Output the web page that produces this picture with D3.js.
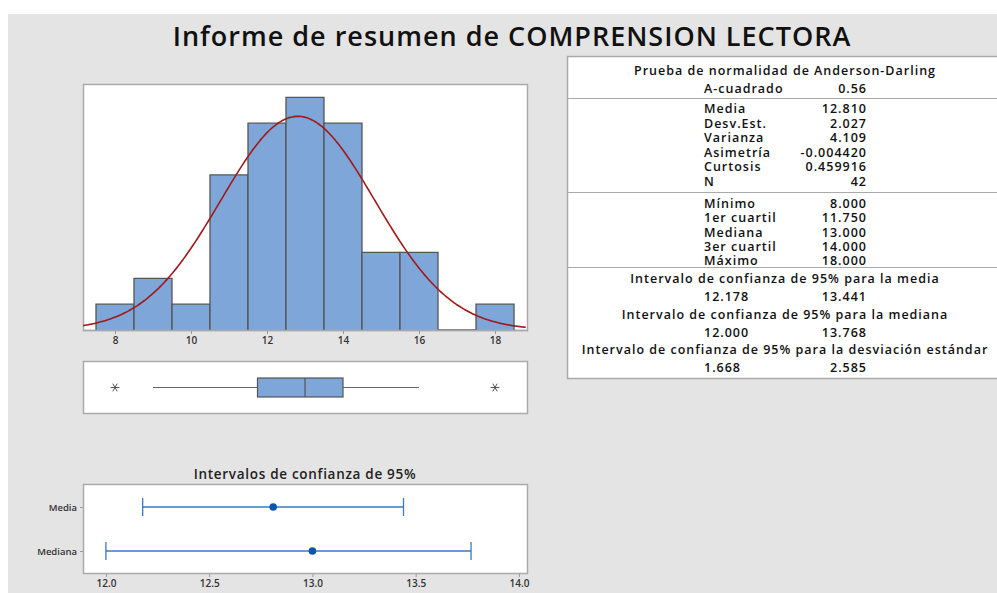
<!DOCTYPE html>
<html>
<head>
<meta charset="utf-8">
<script src="https://cdn.jsdelivr.net/npm/d3@7"></script>
<style>
  body { margin: 0; background: #fff; }
  svg text { font-family: "Open Sans", "Noto Sans", sans-serif; }
  .tick text { font-size: 10px; font-weight: 600; fill: #333; }
  .tick line { stroke: #999; }
  .domain { display: none; }
</style>
</head>
<body>
<div id="graphic"></div>
<script>
// histogram data (bin centres, bin width 1)
var binCenters = [8, 9, 10, 11, 12, 13, 14, 15, 16, 17, 18];
var binCounts = [1, 2, 1, 6, 8, 9, 8, 3, 3, 0, 1];
var histTicks = [8, 10, 12, 14, 16, 18];

var mean = 12.810, stdev = 2.027, n = 42;

// boxplot
var boxQ1 = 11.75, boxMedian = 13.0, boxQ3 = 14.0;
var whiskerLow = 9, whiskerHigh = 16;
var outliers = [8, 18];

// confidence intervals
var ciNames = ["Media", "Mediana"];
var ciLow = [12.178, 12.000];
var ciEst = [12.810, 13.000];
var ciHigh = [13.441, 13.768];
var ciTicks = [12.0, 12.5, 13.0, 13.5, 14.0];

// summary table
var adRows = [["A-cuadrado", "0.56"]];
var descRows = [["Media", "12.810"], ["Desv.Est.", "2.027"], ["Varianza", "4.109"],
  ["Asimetría", "-0.004420"], ["Curtosis", "0.459916"], ["N", "42"]];
var quantRows = [["Mínimo", "8.000"], ["1er cuartil", "11.750"], ["Mediana", "13.000"],
  ["3er cuartil", "14.000"], ["Máximo", "18.000"]];
var ciTitles = ["Intervalo de confianza de 95% para la media",
  "Intervalo de confianza de 95% para la mediana",
  "Intervalo de confianza de 95% para la desviación estándar"];
var ciPairs = [["12.178", "13.441"], ["12.000", "13.768"], ["1.668", "2.585"]];

var W = 997, H = 593;
var svg = d3.select("#graphic").append("svg")
  .attr("width", W).attr("height", H);

// grey page background
svg.append("rect").attr("x", 8).attr("y", 14).attr("width", W - 8).attr("height", H - 14)
  .attr("fill", "#e4e4e4");

svg.append("text")
  .attr("x", 512).attr("y", 46)
  .attr("text-anchor", "middle")
  .style("font-size", "27px").style("font-weight", 600).style("letter-spacing", "1px")
  .attr("fill", "#111")
  .text("Informe de resumen de COMPRENSION LECTORA");

function panel(x, y, w, h) {
  svg.append("rect").attr("x", x + 0.5).attr("y", y + 0.5).attr("width", w).attr("height", h)
    .attr("fill", "#fff").attr("stroke", "#aaa").attr("stroke-width", 1.5);
}

// ---------- histogram ----------
var hx0 = 83, hx1 = 527, hy0 = 84, hy1 = 330;
panel(hx0, hy0, hx1 - hx0, hy1 - hy0);

var x = d3.scaleLinear().domain([7.158, 18.842]).range([hx0, hx1]);
var y = d3.scaleLinear().domain([0, 9.516]).range([hy1, hy0]);

var hist = svg.append("g");
hist.selectAll("path.bar")
  .data(binCenters.map((c, i) => ({ c: c, n: binCounts[i] })))
  .join("path")
  .attr("class", "bar")
  .attr("d", d => {
    var l = x(d.c - 0.5), r = x(d.c + 0.5), t = y(d.n), b = y(0);
    return d.n > 0 ? `M${l},${b}V${t}H${r}V${b}` : `M${l},${b}H${r}`;
  })
  .attr("fill", d => d.n > 0 ? "#7ea6d8" : "none")
  .attr("stroke", "#555").attr("stroke-width", 1.3);

svg.append("clipPath").attr("id", "hclip").append("rect")
  .attr("x", hx0).attr("y", hy0).attr("width", hx1 - hx0).attr("height", hy1 - hy0);

var curveX = d3.range(7.158, 18.85, 0.05);
var pdf = v => n * Math.exp(-0.5 * Math.pow((v - mean) / stdev, 2)) / (stdev * Math.sqrt(2 * Math.PI));
hist.append("path")
  .datum(curveX)
  .attr("clip-path", "url(#hclip)")
  .attr("d", d3.line().x(d => x(d)).y(d => y(pdf(d))).curve(d3.curveBasis))
  .attr("fill", "none").attr("stroke", "#a01a1a").attr("stroke-width", 1.6);

svg.append("line").attr("x1", hx0).attr("x2", hx1 + 1).attr("y1", hy1 + 0.5).attr("y2", hy1 + 0.5)
  .attr("stroke", "#aaa").attr("stroke-width", 1.5);

svg.append("g")
  .attr("transform", `translate(0,${hy1 + 1})`)
  .call(d3.axisBottom(x).tickValues(histTicks).tickSize(3).tickPadding(3).tickFormat(d3.format("d")));

// ---------- boxplot ----------
var bx0 = 83, by0 = 361, by1 = 413;
panel(bx0, by0, hx1 - bx0, by1 - by0);
var bc = 387.5, bh = 19;
var box = svg.append("g");
box.append("line").attr("x1", x(whiskerLow)).attr("x2", x(boxQ1)).attr("y1", bc).attr("y2", bc)
  .attr("stroke", "#666").attr("stroke-width", 1);
box.append("line").attr("x1", x(boxQ3)).attr("x2", x(whiskerHigh)).attr("y1", bc).attr("y2", bc)
  .attr("stroke", "#666").attr("stroke-width", 1);
box.append("rect").attr("x", x(boxQ1)).attr("y", bc - bh / 2)
  .attr("width", x(boxQ3) - x(boxQ1)).attr("height", bh)
  .attr("fill", "#7ea6d8").attr("stroke", "#555").attr("stroke-width", 1.2);
box.append("line").attr("x1", x(boxMedian)).attr("x2", x(boxMedian))
  .attr("y1", bc - bh / 2).attr("y2", bc + bh / 2).attr("stroke", "#555").attr("stroke-width", 1.2);
// outliers: asterisk with a horizontal bar, as Minitab draws them
box.selectAll("path.outlier").data(outliers).join("path")
  .attr("class", "outlier")
  .attr("transform", d => `translate(${x(d)},${bc}) rotate(90)`)
  .attr("d", d3.symbol(d3.symbolAsterisk, 55))
  .attr("fill", "none").attr("stroke", "#555").attr("stroke-width", 1);

// ---------- confidence interval plot ----------
var cx0 = 83, cx1 = 527, cy0 = 484, cy1 = 573;
svg.append("text").attr("x", 305).attr("y", 479).attr("text-anchor", "middle")
  .style("font-size", "13.5px").style("font-weight", 600).style("letter-spacing", "0.7px")
  .attr("fill", "#222")
  .text("Intervalos de confianza de 95%");
panel(cx0, cy0, cx1 - cx0, cy1 - cy0);

var cxs = d3.scaleLinear().domain([11.889, 14.039]).range([cx0, cx1]);
var cys = d3.scalePoint().domain(ciNames).range([507, 551]);

svg.append("g")
  .attr("transform", `translate(0,${cy1 + 1})`)
  .call(d3.axisBottom(cxs).tickValues(ciTicks).tickSize(3).tickPadding(3).tickFormat(d3.format(".1f")));
svg.append("g")
  .attr("transform", `translate(${cx0},0)`)
  .call(d3.axisLeft(cys).tickSize(3).tickPadding(3))
  .selectAll("text").style("font-size", "9.5px");

var ci = svg.selectAll("g.ci")
  .data(ciNames.map((nm, i) => ({ nm: nm, lo: ciLow[i], est: ciEst[i], hi: ciHigh[i] })))
  .join("g").attr("class", "ci");
ci.append("line")
  .attr("x1", d => cxs(d.lo)).attr("x2", d => cxs(d.hi))
  .attr("y1", d => cys(d.nm)).attr("y2", d => cys(d.nm))
  .attr("stroke", "#3a78c2").attr("stroke-width", 1.3);
ci.selectAll("line.cap").data(d => [d.lo, d.hi].map(v => ({ v: v, nm: d.nm }))).join("line")
  .attr("class", "cap")
  .attr("x1", d => cxs(d.v)).attr("x2", d => cxs(d.v))
  .attr("y1", d => cys(d.nm) - 9).attr("y2", d => cys(d.nm) + 9)
  .attr("stroke", "#3a78c2").attr("stroke-width", 1.3);
ci.append("circle")
  .attr("cx", d => cxs(d.est)).attr("cy", d => cys(d.nm)).attr("r", 3.8)
  .attr("fill", "#0b56a8");

// ---------- summary table ----------
var tx = 567, ty = 56;
svg.append("rect").attr("x", tx + 0.5).attr("y", ty + 0.5).attr("width", W).attr("height", 322)
  .attr("fill", "#fff").attr("stroke", "#aaa").attr("stroke-width", 1.5);
[98.5, 192.5, 267.5].forEach(sy => {
  svg.append("line").attr("x1", tx).attr("x2", W).attr("y1", sy).attr("y2", sy)
    .attr("stroke", "#aaa").attr("stroke-width", 1.2);
});

var tbl = svg.append("g").style("font-size", "12.5px").style("font-weight", 600)
  .style("letter-spacing", "1px").attr("fill", "#111");
var labX = 704, valX = 867, midX = 785;
function centred(txt, yy) {
  tbl.append("text").attr("x", midX).attr("y", yy).attr("text-anchor", "middle").text(txt);
}
function pairRows(rows, yStart, step) {
  rows.forEach((r, i) => {
    tbl.append("text").attr("x", labX).attr("y", yStart + i * step).text(r[0]);
    tbl.append("text").attr("x", valX).attr("y", yStart + i * step).attr("text-anchor", "end").text(r[1]);
  });
}
centred("Prueba de normalidad de Anderson-Darling", 75);
pairRows(adRows, 93, 14.5);
pairRows(descRows, 113, 14.5);
pairRows(quantRows, 208, 14.25);
ciTitles.forEach((t, i) => {
  var yy = 283 + i * 35.5;
  centred(t, yy);
  tbl.append("text").attr("x", labX).attr("y", yy + 18).text(ciPairs[i][0]);
  tbl.append("text").attr("x", valX).attr("y", yy + 18).attr("text-anchor", "end").text(ciPairs[i][1]);
});
</script>
</body>
</html>
